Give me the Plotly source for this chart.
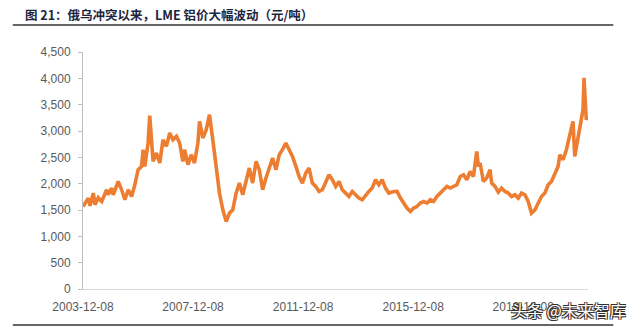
import plotly.graph_objects as go

dates = [
    "2003-12-08", "2004-02-16", "2004-03-10", "2004-04-23", "2004-05-16", "2004-06-28", "2004-08-12",
    "2004-10-17", "2004-11-07", "2004-12-22", "2005-01-12", "2005-03-19", "2005-05-04", "2005-06-16",
    "2005-07-30", "2005-09-13", "2005-10-26", "2005-12-09", "2006-01-23", "2006-02-13", "2006-03-07",
    "2006-03-30", "2006-04-20", "2006-05-12", "2006-06-04", "2006-06-25", "2006-08-08", "2006-09-22",
    "2006-11-04", "2006-12-19", "2007-02-01", "2007-03-16", "2007-05-01", "2007-06-13", "2007-07-26",
    "2007-08-18", "2007-10-01", "2007-11-14", "2007-12-27", "2008-02-10", "2008-03-03", "2008-04-16",
    "2008-05-31", "2008-07-13", "2008-08-26", "2008-10-10", "2008-11-23", "2009-01-06", "2009-02-20",
    "2009-04-05", "2009-05-18", "2009-07-02", "2009-08-14", "2009-09-27", "2009-11-11", "2009-12-24",
    "2010-02-06", "2010-03-23", "2010-05-05", "2010-06-19", "2010-08-02", "2010-09-15", "2010-10-29",
    "2010-12-13", "2011-01-25", "2011-03-09", "2011-04-23", "2011-06-06", "2011-07-20", "2011-09-03",
    "2011-10-16", "2011-11-29", "2012-01-13", "2012-02-25", "2012-04-09", "2012-05-24", "2012-07-07",
    "2012-08-20", "2012-10-04", "2012-11-16", "2012-12-30", "2013-02-13", "2013-03-29", "2013-05-11",
    "2013-06-25", "2013-08-08", "2013-09-21", "2013-11-04", "2013-12-18", "2014-01-31", "2014-03-17",
    "2014-04-29", "2014-06-12", "2014-07-27", "2014-09-08", "2014-10-22", "2014-12-06", "2015-01-18",
    "2015-03-25", "2015-05-08", "2015-06-22", "2015-08-04", "2015-09-17", "2015-11-01", "2015-12-14",
    "2016-01-27", "2016-03-12", "2016-04-25", "2016-06-08", "2016-07-23", "2016-09-04", "2016-10-18",
    "2016-12-02", "2017-01-15", "2017-02-28", "2017-04-14", "2017-05-27", "2017-07-10", "2017-08-24",
    "2017-10-06", "2017-11-19", "2018-01-03", "2018-02-15", "2018-03-31", "2018-04-22", "2018-05-15",
    "2018-06-27", "2018-08-10", "2018-09-24", "2018-10-15", "2018-11-29", "2019-01-11", "2019-02-24",
    "2019-04-10", "2019-05-24", "2019-07-06", "2019-08-20", "2019-10-03", "2019-11-16", "2019-12-31",
    "2020-02-12", "2020-03-27", "2020-05-11", "2020-06-24", "2020-08-07", "2020-09-21", "2020-11-03",
    "2020-12-17", "2021-01-31", "2021-03-15", "2021-04-07", "2021-05-20", "2021-07-03", "2021-08-17",
    "2021-09-07", "2021-09-29", "2021-10-22", "2021-12-04", "2022-01-17", "2022-02-09", "2022-02-22",
    "2022-03-11", "2022-03-24", "2022-04-16",
]

prices = [
    1566, 1726, 1580, 1821, 1598, 1732, 1662,
    1884, 1789, 1916, 1789, 2042, 1884, 1694,
    1884, 1757, 1979, 2265, 2327, 2645, 2327,
    2582, 2773, 3292, 2773, 2422, 2582, 2392,
    2835, 2708, 2963, 2835, 2898, 2773, 2422,
    2645, 2360, 2550, 2392, 2773, 3184, 2868,
    3026, 3311, 2835, 2327, 1821, 1503, 1281,
    1441, 1503, 1821, 2011, 1789, 2074, 2297,
    2011, 2422, 2265, 1884, 2107, 2327, 2487,
    2265, 2550, 2645, 2773, 2645, 2518, 2327,
    2137, 2011, 2202, 2297, 2011, 1947, 1852,
    1884, 2011, 2169, 2074, 1947, 2042, 1884,
    1821, 1757, 1852, 1789, 1726, 1694, 1789,
    1852, 1916, 2074, 1979, 2074, 1916, 1821,
    1850, 1852, 1726, 1631, 1536, 1471, 1536,
    1566, 1631, 1662, 1631, 1694, 1662, 1757,
    1821, 1884, 1947, 1916, 1947, 1979, 2137,
    2169, 2074, 2232, 2137, 2613, 2327, 2392,
    2042, 2107, 2265, 2011, 1947, 1840, 1916,
    1852, 1821, 1757, 1789, 1726, 1821, 1789,
    1662, 1441, 1503, 1631, 1757, 1821, 1979,
    2042, 2169, 2327, 2550, 2455, 2645, 2963,
    3089, 3184, 2518, 2898, 3216, 3406, 4010,
    3660, 3216, 3279,
]

x_ticks = ["2003-12-08", "2007-12-08", "2011-12-08", "2015-12-08", "2019-12-08"]
y_ticks = [0, 500, 1000, 1500, 2000, 2500, 3000, 3500, 4000, 4500]

title_text = "图 21：俄乌冲突以来，LME 铝价大幅波动（元/吨）"
watermark = "头条 @未来智库"

fig = go.Figure()
fig.add_trace(go.Scatter(
    x=dates, y=prices, mode="lines",
    line=dict(color="#ED7D31", width=3.6),
    showlegend=False, hoverinfo="skip",
))

fig.update_layout(
    width=640, height=326,
    margin=dict(l=83, r=52, t=52, b=37),
    paper_bgcolor="white", plot_bgcolor="white",
    font=dict(family="Liberation Sans, Arial, sans-serif", size=12, color="#595959"),
    xaxis=dict(
        type="date",
        range=["2003-12-08", "2022-04-16"],
        tickvals=x_ticks, ticktext=x_ticks,
        showgrid=False, zeroline=False,
        showline=True, linecolor="#D9D9D9", linewidth=1,
        ticks="", tickfont=dict(size=12, color="#595959"),
        ticklabelstandoff=7,
    ),
    yaxis=dict(
        range=[0, 4500],
        tickvals=y_ticks, tickformat=",",
        showgrid=False, zeroline=False,
        showline=True, linecolor="#BFBFBF", linewidth=1,
        ticks="outside", ticklen=4, tickcolor="#BFBFBF",
        tickfont=dict(size=12, color="#595959"),
        ticklabelstandoff=5,
    ),
    annotations=[
        dict(text="<b>" + title_text + "</b>", xref="paper", yref="paper",
             x=-0.119, y=1.157, xanchor="left", yanchor="middle", showarrow=False,
             font=dict(family="Noto Sans CJK SC", size=12.5, color="#1B2540")),
        dict(text=watermark, xref="paper", yref="paper",
             x=1.08, y=-0.09, xanchor="right", yanchor="middle", showarrow=False,
             font=dict(family="Noto Sans CJK SC", size=16, color="white",
                       shadow="1px 1px 0 #333, -1px -1px 0 #333, 1px -1px 0 #333, -1px 1px 0 #333")),
    ],
    shapes=[
        dict(type="line", xref="paper", yref="paper", x0=-0.139, x1=1.05, y0=1.114, y1=1.114,
             line=dict(color="#333333", width=1.5)),
        dict(type="line", xref="paper", yref="paper", x0=-0.139, x1=1.05, y0=-0.152, y1=-0.152,
             line=dict(color="#333333", width=1.5)),
    ],
)

fig.write_html("out.html")
